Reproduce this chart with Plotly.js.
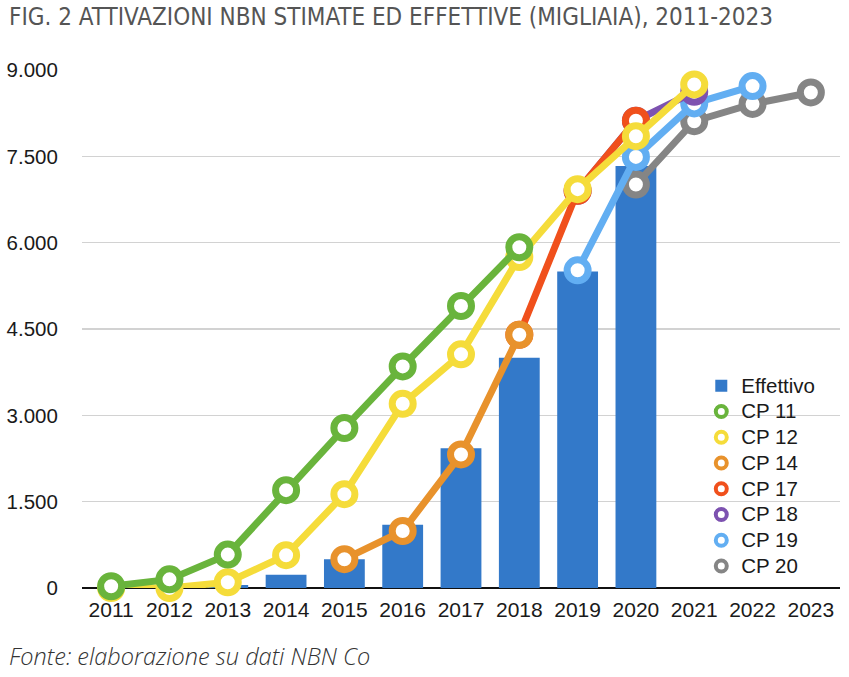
<!DOCTYPE html>
<html>
<head>
<meta charset="utf-8">
<script src="https://cdn.plot.ly/plotly-3.0.1.min.js"></script>
<style>
  body { margin: 0; background: #fff; }
  #chart { width: 849px; height: 677px; }
</style>
</head>
<body>
<div id="chart"></div>
<script>
var years = ['2011','2012','2013','2014','2015','2016','2017','2018','2019','2020','2021','2022','2023'];

var effettivo = [null, null, 50, 230, 500, 1100, 2430, 4000, 5500, 7330, null, null, null];
var cp11 = [30, 150, 580, 1700, 2780, 3850, 4900, 5920, null, null, null, null, null];
var cp12 = [0, 0, 100, 570, 1630, 3200, 4060, 5750, 6930, 7850, 8750, null, null];
var cp14 = [null, null, null, null, 500, 990, 2320, 4400, null, null, null, null, null];
var cp17 = [null, null, null, null, null, null, null, 4400, 6900, 8120, null, null, null];
var cp18 = [null, null, null, null, null, null, null, null, 6900, 8120, 8620, null, null];
var cp19 = [null, null, null, null, null, null, null, null, 5520, 7490, 8420, 8720, null];
var cp20 = [null, null, null, null, null, null, null, null, null, 7010, 8110, 8410, 8610];

var yTicks = [0, 1500, 3000, 4500, 6000, 7500, 9000];

// [name, values, colour], drawn in this order (last one on top)
var series = [
  ['CP 20', cp20, '#858585'],
  ['CP 19', cp19, '#62aef2'],
  ['CP 18', cp18, '#7d52b0'],
  ['CP 17', cp17, '#f0501c'],
  ['CP 14', cp14, '#e8922c'],
  ['CP 12', cp12, '#f5dc3a'],
  ['CP 11', cp11, '#69b43c']
];
var legendOrder = ['CP 11','CP 12','CP 14','CP 17','CP 18','CP 19','CP 20'];

// legend text a bit larger than the row spacing allows
function big(t) { return '<span style="font-size:20.5px">' + t + '</span>'; }

var data = [{
  x: years,
  y: effettivo,
  type: 'bar',
  name: big('Effettivo'),
  width: 0.7,
  marker: { color: '#3379c9' },
  hoverinfo: 'x+y'
}];

series.forEach(function (s) {
  data.push({
    x: years,
    y: s[1],
    type: 'scatter',
    mode: 'lines+markers',
    name: s[0],
    showlegend: false,
    cliponaxis: false,
    line: { color: s[2], width: 7 },
    marker: { symbol: 'circle', size: 21, color: '#ffffff', line: { color: s[2], width: 7 } }
  });
});

// legend entries: ring markers only
legendOrder.forEach(function (n) {
  var s = series.filter(function (t) { return t[0] === n; })[0];
  data.push({
    x: [null],
    y: [null],
    type: 'scatter',
    mode: 'markers',
    name: big(n),
    marker: { symbol: 'circle', size: 11, color: '#ffffff', line: { color: s[2], width: 4 } }
  });
});

var layout = {
  width: 849,
  height: 677,
  margin: { l: 82, r: 9, t: 70, b: 89 },
  paper_bgcolor: '#ffffff',
  plot_bgcolor: '#ffffff',
  separators: ',.',
  showlegend: true,
  bargap: 0.3,
  font: { family: 'Liberation Sans, Arial, sans-serif', size: 21, color: '#1a1a1a' },
  legend: {
    x: 0.817,
    y: 0.425,
    xanchor: 'left',
    yanchor: 'top',
    bgcolor: 'rgba(0,0,0,0)',
    tracegroupgap: 0,
    itemwidth: 30,
    font: { family: 'Liberation Sans, Arial, sans-serif', size: 17.5, color: '#1a1a1a' }
  },
  xaxis: {
    type: 'category',
    range: [-0.5, 12.5],
    showgrid: false,
    showline: false,
    ticks: 'outside',
    ticklen: 3,
    tickcolor: 'rgba(0,0,0,0)',
    tickfont: { size: 21, color: '#1a1a1a' },
    fixedrange: true
  },
  yaxis: {
    range: [0, 9000],
    tickvals: yTicks,
    tickformat: ',d',
    showgrid: true,
    gridcolor: '#d2d2d2',
    gridwidth: 1.5,
    zeroline: true,
    zerolinecolor: '#111111',
    zerolinewidth: 2,
    ticks: 'outside',
    ticklen: 19,
    tickcolor: 'rgba(0,0,0,0)',
    tickfont: { size: 20.5, color: '#1a1a1a' },
    fixedrange: true
  },
  annotations: [{
    text: 'FIG. 2 ATTIVAZIONI NBN STIMATE ED EFFETTIVE (MIGLIAIA), 2011-2023',
    xref: 'paper', yref: 'paper',
    x: 0, xshift: -75, y: 1, yshift: 53,
    xanchor: 'left', yanchor: 'middle',
    showarrow: false,
    font: { family: 'Liberation Sans Narrow, DejaVu Sans Condensed, sans-serif', size: 24, color: '#555555' }
  }, {
    text: '<i>Fonte: elaborazione su dati NBN Co</i>',
    xref: 'paper', yref: 'paper',
    x: 0, xshift: -75, y: 0, yshift: -68,
    xanchor: 'left', yanchor: 'middle',
    showarrow: false,
    font: { family: 'Open Sans, sans-serif', size: 23.5, color: '#333333', weight: 300 }
  }]
};

Plotly.newPlot(document.getElementById('chart'), data, layout, { displayModeBar: false, staticPlot: true });
</script>
</body>
</html>
